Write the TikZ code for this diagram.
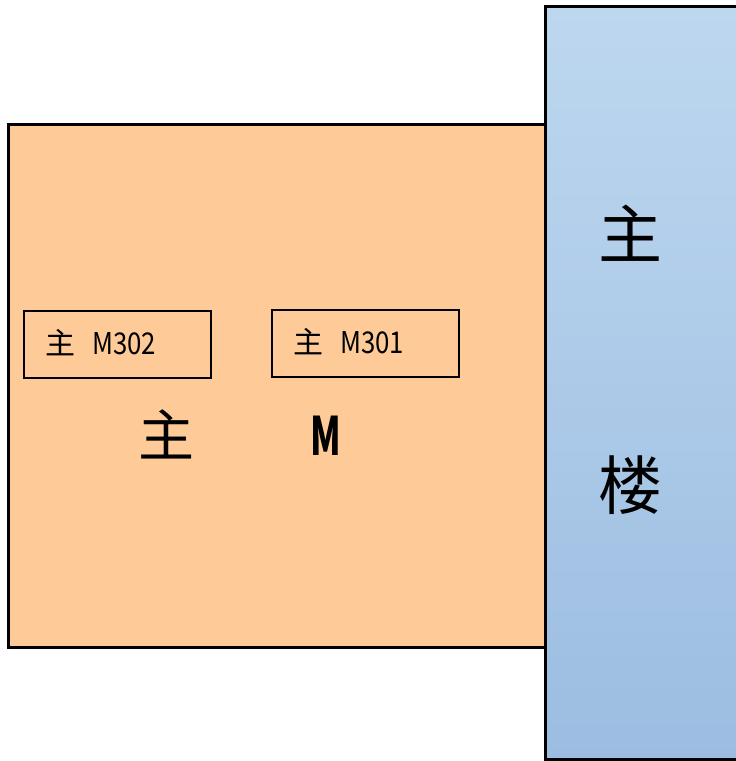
\documentclass[tikz,border=0pt]{standalone}
\usepackage{fontspec}
\newfontfamily\cjk{Noto Sans CJK SC}
\definecolor{orangefill}{HTML}{FDCA98}
\definecolor{bluetop}{HTML}{BDD7EF}
\definecolor{bluebot}{HTML}{9CBDE1}
\tikzset{
  room/.style={draw=black, line width=3pt},
  tag/.style={draw=black, line width=1.3pt, minimum width=187pt, minimum height=67pt, inner sep=0pt},
  small/.style={font=\cjk\fontsize{30pt}{30pt}\selectfont, anchor=west, inner sep=0pt},
  big/.style={font=\cjk\fontsize{56pt}{56pt}\selectfont},
  huge/.style={font=\cjk\fontsize{64pt}{64pt}\selectfont}
}
\begin{document}
\begin{tikzpicture}[x=1pt,y=-1pt]
\useasboundingbox (0,0) rectangle (736,761);
% orange room
\fill[orangefill] (8,124) rectangle (545,647);
\draw[room] (545,124) -- (8,124) -- (8,647) -- (545,647);
% blue block
\shade[top color=bluetop, bottom color=bluebot] (545,6) rectangle (740,759);
\draw[room] (740,6) -- (545,6) -- (545,759) -- (740,759);
% tags
\node[tag] (t2) at (117.5,344.5) {};
\node[tag] (t1) at (365.5,343.5) {};
\node[small] (l2) at (45,343) {主\hspace{17pt}\scalebox{0.86}[1]{M302}};
\node[small] (l1) at (293,342) {主\hspace{17pt}\scalebox{0.86}[1]{M301}};
% big labels
\node[big] (zhu) at (166,434) {主};
\node[font=\cjk\bfseries\fontsize{53pt}{53pt}\selectfont] (m) at (326,436) {\scalebox{0.66}[1]{M}};
\node[huge] (r1) at (630,233) {主};
\node[huge] (r2) at (630,485) {楼};
\end{tikzpicture}
\end{document}
